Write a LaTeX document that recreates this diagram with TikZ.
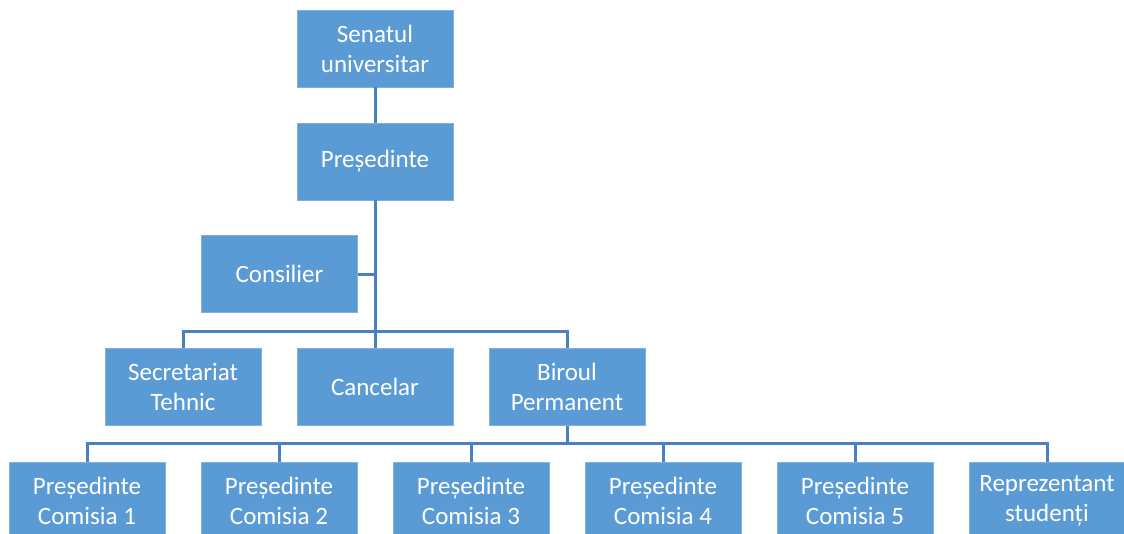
\documentclass[tikz,border=0pt]{standalone}
\usepackage{fontspec}
\setmainfont{Carlito}
\definecolor{boxfill}{HTML}{5B9BD5}
\definecolor{boxedge}{HTML}{7FB0DE}
\definecolor{conn}{HTML}{4A82BE}
\begin{document}
\begin{tikzpicture}[x=1pt,y=-1pt,
  orgbox/.style={draw=boxedge,line width=0.8pt,fill=boxfill,minimum width=156pt,minimum height=77pt,
    inner sep=0pt,align=center,text=white,font=\fontsize{25}{30}\selectfont},
  link/.style={draw=conn,line width=3pt}]
\useasboundingbox (0,0) rectangle (1124,533);
\clip (0,0) rectangle (1124,533);
\node[orgbox] (sen) at (375,48.5) {Senatul\\universitar};
\node[orgbox] (pre) at (375,161.5) {Președinte};
\node[orgbox] (con) at (279.5,274) {Consilier};
\node[orgbox] (sec) at (183,387) {Secretariat\\Tehnic};
\node[orgbox] (can) at (375,387) {Cancelar};
\node[orgbox] (bir) at (567,387) {Biroul\\Permanent};
\node[orgbox] (c1) at (87,500.5) {Președinte\\Comisia 1};
\node[orgbox] (c2) at (279,500.5) {Președinte\\Comisia 2};
\node[orgbox] (c3) at (471,500.5) {Președinte\\Comisia 3};
\node[orgbox] (c4) at (663,500.5) {Președinte\\Comisia 4};
\node[orgbox] (c5) at (855,500.5) {Președinte\\Comisia 5};
\node[orgbox] (rep) at (1047,500.5) {Reprezentant\\studenți};
\coordinate (j1) at (375,331);
\coordinate (j2) at (567,443);
\path[link] (sen.south) -- (pre.north);
\path[link] (pre.south) -- (can.north);
\path[link] (con.east) -- (con.east -| pre.south);
\path[link] (sec.north) |- (j1) -| (bir.north);
\path[link] (bir.south) -- (j2);
\path[link] (c1.north) |- (j2) -| (rep.north);
\foreach \n in {c2,c3,c4,c5} \path[link] (\n.north) -- (\n.north |- j2);
\end{tikzpicture}
\end{document}
